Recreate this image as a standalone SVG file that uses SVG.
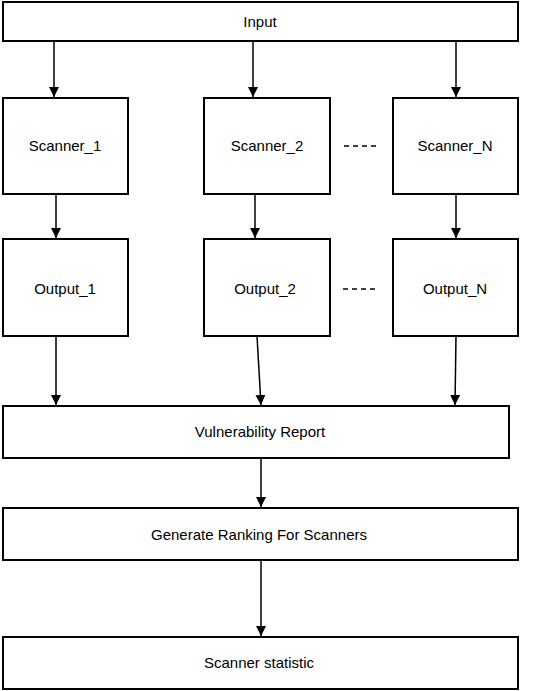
<svg xmlns="http://www.w3.org/2000/svg" width="533" height="691" viewBox="0 0 533 691">
<defs>
<marker id="ah" markerWidth="10" markerHeight="10" refX="10" refY="5" orient="auto" markerUnits="userSpaceOnUse">
<path d="M0,0 L10,5 L0,10 Z" fill="#000"/>
</marker>
<style>
.box{fill:#fff;stroke:#000;stroke-width:2}
.lbl{font-family:"Liberation Sans",Arial,sans-serif;font-size:15px;fill:#000;text-anchor:middle}
.edge{stroke:#000;stroke-width:1.5;fill:none;marker-end:url(#ah)}
.dash{stroke:#000;stroke-width:1.5;stroke-dasharray:5,4;fill:none}
</style>
</defs>
<rect width="533" height="691" fill="#fff"/>
<g id="connectors">
<line class="edge" x1="54" y1="41" x2="54" y2="97"/>
<line class="edge" x1="253" y1="41" x2="253" y2="97"/>
<line class="edge" x1="456" y1="41" x2="456" y2="97"/>
<line class="edge" x1="56" y1="194" x2="56" y2="238"/>
<line class="edge" x1="255" y1="194" x2="255" y2="238"/>
<line class="edge" x1="456" y1="194" x2="456" y2="238"/>
<line class="edge" x1="56" y1="336" x2="56" y2="405"/>
<line class="edge" x1="257" y1="336" x2="261" y2="405"/>
<line class="edge" x1="456" y1="336" x2="455" y2="405"/>
<line class="edge" x1="261" y1="458" x2="261" y2="507"/>
<line class="edge" x1="261" y1="560" x2="261" y2="636"/>
<line class="dash" x1="344" y1="146" x2="380" y2="146"/>
<line class="dash" x1="343" y1="289" x2="379" y2="289"/>
</g>
<g id="input"><rect class="box" x="3" y="2" width="515" height="39"/><text class="lbl" x="260" y="27">Input</text></g>
<g id="scanner1"><rect class="box" x="3" y="98" width="125" height="96"/><text class="lbl" x="65" y="151">Scanner_1</text></g>
<g id="scanner2"><rect class="box" x="204" y="98" width="126" height="96"/><text class="lbl" x="267" y="151">Scanner_2</text></g>
<g id="scannerN"><rect class="box" x="393" y="98" width="125" height="96"/><text class="lbl" x="455" y="151">Scanner_N</text></g>
<g id="output1"><rect class="box" x="3" y="239" width="125" height="97"/><text class="lbl" x="65" y="294">Output_1</text></g>
<g id="output2"><rect class="box" x="204" y="239" width="126" height="97"/><text class="lbl" x="265" y="294">Output_2</text></g>
<g id="outputN"><rect class="box" x="393" y="239" width="125" height="97"/><text class="lbl" x="455" y="294">Output_N</text></g>
<g id="vuln"><rect class="box" x="3" y="406" width="506" height="52"/><text class="lbl" x="260" y="437">Vulnerability Report</text></g>
<g id="ranking"><rect class="box" x="3" y="508" width="515" height="52"/><text class="lbl" x="259" y="540">Generate Ranking For Scanners</text></g>
<g id="stat"><rect class="box" x="3" y="637" width="515" height="52"/><text class="lbl" x="259" y="668">Scanner statistic</text></g>
</svg>
